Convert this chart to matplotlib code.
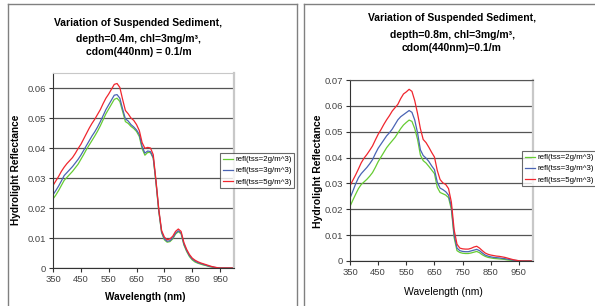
import numpy as np
import matplotlib
matplotlib.use("Agg")
import matplotlib.pyplot as plt
from matplotlib.lines import Line2D

# ==========================================================================
# DATA (10 nm steps)
# ==========================================================================
wavelength = list(range(350, 1001, 10))

labels = ["refl(tss=2g/m^3)", "refl(tss=3g/m^3)", "refl(tss=5g/m^3)"]

# depth = 0.4 m
left_tss2 = [0.0230, 0.0243, 0.0258, 0.0275, 0.0292, 0.0302, 0.0312, 0.0322, 0.0334, 0.0346,
             0.0362, 0.0378, 0.0395, 0.0410, 0.0425, 0.0440, 0.0456, 0.0474, 0.0494, 0.0514,
             0.0530, 0.0546, 0.0562, 0.0566, 0.0555, 0.0522, 0.0488, 0.0482, 0.0472, 0.0465,
             0.0455, 0.0438, 0.0398, 0.0376, 0.0385, 0.0385, 0.0366, 0.0283, 0.0188, 0.0118,
             0.0094, 0.0086, 0.0088, 0.0097, 0.0113, 0.0121, 0.0114, 0.0077, 0.0055, 0.0038,
             0.0027, 0.0020, 0.0016, 0.0013, 0.0010, 0.0008, 0.0005, 0.0003, 0.0001, 0.0000,
             0.0000, 0.0000, 0.0000, 0.0000, 0.0000, 0.0000]
left_tss3 = [0.0244, 0.0258, 0.0273, 0.0290, 0.0308, 0.0318, 0.0328, 0.0338, 0.0350, 0.0362,
             0.0376, 0.0392, 0.0408, 0.0424, 0.0440, 0.0454, 0.0470, 0.0488, 0.0508, 0.0528,
             0.0544, 0.0560, 0.0576, 0.0578, 0.0566, 0.0530, 0.0497, 0.0490, 0.0478, 0.0470,
             0.0460, 0.0445, 0.0405, 0.0383, 0.0390, 0.0388, 0.0368, 0.0285, 0.0190, 0.0120,
             0.0097, 0.0089, 0.0091, 0.0100, 0.0116, 0.0124, 0.0117, 0.0080, 0.0058, 0.0041,
             0.0030, 0.0023, 0.0018, 0.0015, 0.0012, 0.0009, 0.0006, 0.0004, 0.0002, 0.0001,
             0.0000, 0.0000, 0.0000, 0.0000, 0.0000, 0.0000]
left_tss5 = [0.0275, 0.0290, 0.0305, 0.0322, 0.0336, 0.0348, 0.0358, 0.0368, 0.0382, 0.0398,
             0.0412, 0.0430, 0.0448, 0.0466, 0.0482, 0.0496, 0.0512, 0.0528, 0.0548, 0.0566,
             0.0580, 0.0596, 0.0612, 0.0615, 0.0602, 0.0562, 0.0525, 0.0514, 0.0500, 0.0492,
             0.0478, 0.0458, 0.0418, 0.0399, 0.0402, 0.0400, 0.0378, 0.0290, 0.0195, 0.0125,
             0.0103, 0.0094, 0.0097, 0.0106, 0.0122, 0.0130, 0.0122, 0.0085, 0.0062, 0.0045,
             0.0033, 0.0026, 0.0021, 0.0017, 0.0014, 0.0011, 0.0008, 0.0005, 0.0003, 0.0001,
             0.0000, 0.0000, 0.0000, 0.0000, 0.0000, 0.0000]

# depth = 0.8 m
right_tss2 = [0.0211, 0.0235, 0.0258, 0.0280, 0.0296, 0.0306, 0.0316, 0.0328, 0.0342, 0.0362,
              0.0384, 0.0402, 0.0420, 0.0438, 0.0452, 0.0465, 0.0478, 0.0495, 0.0512, 0.0526,
              0.0536, 0.0545, 0.0540, 0.0512, 0.0470, 0.0410, 0.0388, 0.0379, 0.0366, 0.0352,
              0.0338, 0.0285, 0.0265, 0.0260, 0.0255, 0.0245, 0.0200, 0.0090, 0.0040, 0.0033,
              0.0030, 0.0029, 0.0029, 0.0031, 0.0034, 0.0037, 0.0032, 0.0024, 0.0018, 0.0014,
              0.0012, 0.0010, 0.0009, 0.0008, 0.0007, 0.0006, 0.0004, 0.0003, 0.0002, 0.0001,
              0.0000, 0.0000, 0.0000, 0.0000, 0.0000, 0.0000]
right_tss3 = [0.0243, 0.0270, 0.0298, 0.0322, 0.0338, 0.0350, 0.0362, 0.0376, 0.0392, 0.0415,
              0.0436, 0.0452, 0.0468, 0.0484, 0.0496, 0.0510, 0.0528, 0.0546, 0.0558, 0.0566,
              0.0574, 0.0582, 0.0575, 0.0545, 0.0495, 0.0430, 0.0408, 0.0398, 0.0385, 0.0368,
              0.0353, 0.0305, 0.0282, 0.0276, 0.0268, 0.0255, 0.0210, 0.0100, 0.0050, 0.0040,
              0.0037, 0.0036, 0.0036, 0.0039, 0.0042, 0.0045, 0.0040, 0.0031, 0.0023, 0.0019,
              0.0016, 0.0014, 0.0013, 0.0012, 0.0010, 0.0009, 0.0007, 0.0005, 0.0003, 0.0002,
              0.0001, 0.0000, 0.0000, 0.0000, 0.0000, 0.0000]
right_tss5 = [0.0291, 0.0312, 0.0333, 0.0356, 0.0380, 0.0398, 0.0412, 0.0428, 0.0445, 0.0468,
              0.0490, 0.0508, 0.0528, 0.0546, 0.0562, 0.0580, 0.0593, 0.0606, 0.0628, 0.0646,
              0.0654, 0.0664, 0.0656, 0.0620, 0.0570, 0.0512, 0.0470, 0.0458, 0.0440, 0.0420,
              0.0402, 0.0350, 0.0315, 0.0302, 0.0296, 0.0280, 0.0228, 0.0120, 0.0065, 0.0050,
              0.0047, 0.0046, 0.0046, 0.0049, 0.0054, 0.0057, 0.0050, 0.0040, 0.0031, 0.0026,
              0.0023, 0.0021, 0.0019, 0.0018, 0.0016, 0.0014, 0.0011, 0.0008, 0.0005, 0.0003,
              0.0001, 0.0000, 0.0000, 0.0000, 0.0000, 0.0000]

xticks = [350, 450, 550, 650, 750, 850, 950]
left_yticks = [0, 0.01, 0.02, 0.03, 0.04, 0.05, 0.06]
right_yticks = [0, 0.01, 0.02, 0.03, 0.04, 0.05, 0.06, 0.07]

colors = ["#66cc33", "#4a64b4", "#f0262e"]

# ==========================================================================
# FIGURE SETUP (everything placed in pixel units of a 595x306 image)
# ==========================================================================
W, H = 595, 306
plt.rcParams['font.family'] = ['Liberation Sans', 'DejaVu Sans']
fig = plt.figure(figsize=(W / 100, H / 100), dpi=100)
fig.patch.set_facecolor("white")


def px_box(x0, y0, x1, y1):
    # pixel box (top-left origin) -> figure fraction [l, b, w, h]
    return [x0 / W, 1 - y1 / H, (x1 - x0) / W, (y1 - y0) / H]


def fx(x):
    return x / W


def fy(y):
    return 1 - y / H


# outer chart frames (gray)
frame_col = "#808080"
for xs, ys in [([7.5, 7.5], [306, 3.5]), ([7.5, 297], [3.5, 3.5]), ([297, 297], [3.5, 306]),
               ([304, 304], [306, 3.5]), ([304, 595], [3.5, 3.5])]:
    fig.add_artist(Line2D([fx(v) for v in xs], [fy(v) for v in ys],
                          color=frame_col, lw=1.0, transform=fig.transFigure))


def draw_panel(box, series, yticks, ymax, legend_xy):
    ax = fig.add_axes(px_box(*box))
    for vals, col, lab in zip(series, colors, labels):
        ax.plot(wavelength, vals, color=col, lw=0.9, label=lab)
    ax.set_xlim(350, 1000)
    ax.set_ylim(0, ymax)
    ax.set_xticks(xticks)
    ax.set_yticks(yticks)
    ax.set_yticklabels(["0" if t == 0 else f"{t:.2f}" for t in yticks])
    ax.yaxis.grid(True, color="#555555", lw=0.9)
    ax.set_axisbelow(True)
    ax.tick_params(direction="out", length=3, width=0.8, labelsize=6.8,
                   colors="#333333", labelcolor="#444444", pad=2)
    ax.spines["left"].set_color("#333333")
    ax.spines["bottom"].set_color("#333333")
    ax.spines["top"].set_color("#555555" if ymax == yticks[-1] else "#c8c8c8")
    ax.spines["right"].set_color("#c8c8c8")
    ax.spines["right"].set_linewidth(1.6)
    leg = ax.legend(loc="upper left", bbox_to_anchor=(fx(legend_xy[0]), fy(legend_xy[1])),
                    bbox_transform=fig.transFigure, fontsize=5.7, frameon=True,
                    fancybox=False, borderpad=0.35, labelspacing=0.45,
                    handlelength=1.3, handletextpad=0.25, borderaxespad=0)
    leg.get_frame().set_edgecolor("#444444")
    leg.get_frame().set_linewidth(0.8)
    return ax


# ==========================================================================
# LEFT PANEL: depth 0.4 m
# ==========================================================================
draw_panel((53, 73, 234, 268), [left_tss2, left_tss3, left_tss5],
           left_yticks, 0.065, (220, 153))

fig.text(fx(138), fy(23), "Variation of Suspended Sediment,", ha="center", va="center",
         fontsize=7.5, fontweight="bold")
fig.text(fx(138), fy(39), "depth=0.4m, chl=3mg/m\u00b3,", ha="center", va="center",
         fontsize=7.5, fontweight="bold")
fig.text(fx(139), fy(52), "cdom(440nm) = 0.1/m", ha="center", va="center",
         fontsize=7.5, fontweight="bold")
fig.text(fx(16), fy(170), "Hydrolight Reflectance", ha="center", va="center",
         rotation=90, fontsize=7.3, fontweight="bold")
fig.text(fx(145), fy(297), "Wavelength (nm)", ha="center", va="center",
         fontsize=7.2, fontweight="bold")

# ==========================================================================
# RIGHT PANEL: depth 0.8 m
# ==========================================================================
draw_panel((350, 80, 533, 261), [right_tss2, right_tss3, right_tss5],
           right_yticks, 0.07, (522, 151))

fig.text(fx(452), fy(18), "Variation of Suspended Sediment,", ha="center", va="center",
         fontsize=7.5, fontweight="bold")
fig.text(fx(452), fy(35), "depth=0.8m, chl=3mg/m\u00b3,", ha="center", va="center",
         fontsize=7.5, fontweight="bold")
fig.text(fx(452), fy(48), "cdom(440nm)=0.1/m", ha="center", va="center",
         fontsize=7.5, fontweight="bold")
fig.text(fx(318), fy(171), "Hydrolight Reflectance", ha="center", va="center",
         rotation=90, fontsize=7.5, fontweight="bold")
fig.text(fx(443), fy(292), "Wavelength (nm)", ha="center", va="center", fontsize=7.5)

fig.savefig("out.png", dpi=100, facecolor="white")
